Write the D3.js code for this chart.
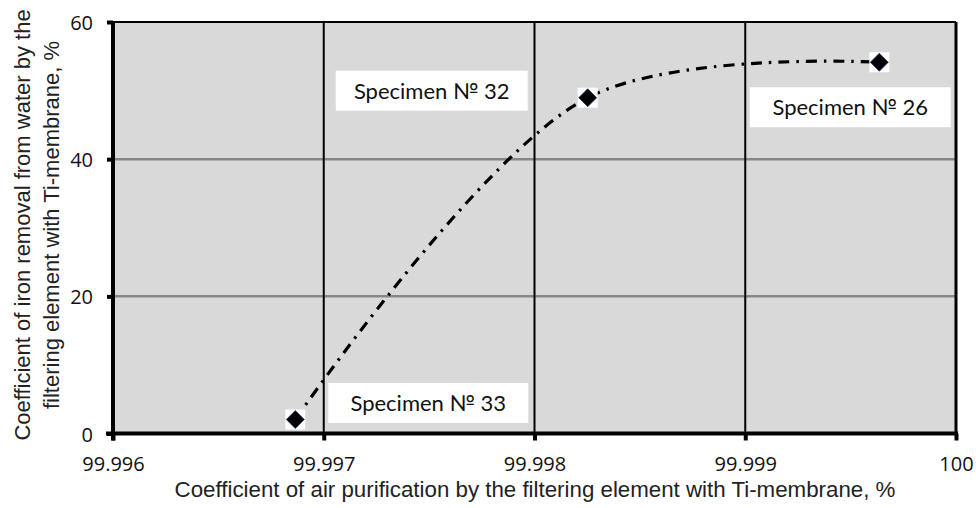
<!DOCTYPE html>
<html><head><meta charset="utf-8">
<script src="https://cdn.jsdelivr.net/npm/d3@7"></script>
<style>body{margin:0;background:#fff}svg{display:block}</style>
</head><body>
<svg id="c" width="976" height="508"></svg>
<script>
// ---- data ----
const airPurification = [99.996865, 99.9982525, 99.999636];
const ironRemoval = [2.04, 48.96, 54.13];
const specimenLabels = ["Specimen № 33", "Specimen № 32", "Specimen № 26"];
const xTicks = [99.996, 99.997, 99.998, 99.999, 100];
const xTickLabels = ["99.996", "99.997", "99.998", "99.999", "100"];
const yTicks = [0, 20, 40, 60];
const xTitle = "Coefficient of air purification by the filtering element with Ti-membrane, %";
const yTitleLines = ["Coefficient of iron removal from water by the", "filtering element with Ti-membrane, %"];

const svg = d3.select("#c");
const L = 113, R = 956, T = 22, B = 433.5;
const x = d3.scaleLinear().domain([99.996, 100]).range([L, R]);
const y = d3.scaleLinear().domain([0, 60]).range([B, T]);

// background
svg.append("rect").attr("x", L).attr("y", T).attr("width", R - L).attr("height", B - T).attr("fill", "#d9d9d9");

// horizontal grid
svg.append("g").selectAll("line").data(yTicks.filter(d => d > 0 && d < 60)).join("line")
  .attr("x1", L).attr("x2", R).attr("y1", d => y(d)).attr("y2", d => y(d))
  .attr("stroke", "#878787").attr("stroke-width", 2.5);
// vertical grid
svg.append("g").selectAll("line").data(xTicks.filter(d => d > 99.996 && d < 100)).join("line")
  .attr("x1", d => x(d)).attr("x2", d => x(d)).attr("y1", T).attr("y2", B)
  .attr("stroke", "#000").attr("stroke-width", 2);

// borders
svg.append("line").attr("x1", L).attr("x2", R).attr("y1", T).attr("y2", T).attr("stroke", "#000").attr("stroke-width", 2);
svg.append("line").attr("x1", R).attr("x2", R).attr("y1", T).attr("y2", B).attr("stroke", "#000").attr("stroke-width", 3);

// axes
const tickFont = "'Open Sans', sans-serif";
const xAxis = d3.axisBottom(x).tickValues(xTicks).tickSize(7).tickFormat((d, i) => xTickLabels[i]);
const gx = svg.append("g").attr("transform", `translate(0,${B})`).call(xAxis)
  .attr("font-size", null).attr("font-family", null);
gx.select(".domain").attr("stroke-width", 4).attr("d", `M${L - 7},0H${R + 2}`);
gx.selectAll(".tick line").attr("stroke-width", 4);
gx.selectAll(".tick text").style("font-family", tickFont).style("font-size", "20px").attr("fill", "#111").attr("dy", null).attr("y", 37);

const yAxis = d3.axisLeft(y).tickValues(yTicks).tickSize(6);
const gy = svg.append("g").attr("transform", `translate(${L},0)`).call(yAxis)
  .attr("font-size", null).attr("font-family", null);
gy.select(".domain").attr("stroke-width", 4).attr("d", `M0,${T - 1}V${B + 7}`);
gy.selectAll(".tick line").attr("stroke-width", 4);
gy.selectAll(".tick text").style("font-family", tickFont).style("font-size", "20px").attr("fill", "#111").attr("dy", null).attr("y", 7.5).attr("x", -20);
gx.select(".domain").raise();

// smooth trend line
const pts = airPurification.map((v, i) => [x(v), y(ironRemoval[i])]);
svg.append("path").attr("d", d3.line().curve(d3.curveCatmullRom.alpha(0.5))(pts))
  .attr("fill", "none").attr("stroke", "#000").attr("stroke-width", 3.2)
  .attr("stroke-dasharray", "11,7,2.5,7");

// markers
const mk = svg.append("g").selectAll("g").data(pts).join("g").attr("transform", d => `translate(${d[0]},${d[1]})`);
mk.append("rect").attr("x", -10).attr("y", -10).attr("width", 20).attr("height", 20).attr("fill", "#fff");
mk.append("path").attr("d", "M0,-9L9,0L0,9L-9,0Z").attr("fill", "#000").attr("stroke", "#1f3f7a").attr("stroke-width", 0.8);

// labels
const offsets = [[133, -16.5], [-156, -7], [-29, 45]];
const lbl = svg.append("g").selectAll("g").data(specimenLabels).join("g")
  .attr("transform", (d, i) => `translate(${pts[i][0] + offsets[i][0]},${pts[i][1] + offsets[i][1]})`);
const boxW = [200, 192, 201];
lbl.append("rect").attr("x", (d, i) => -boxW[i] / 2).attr("y", -20).attr("width", (d, i) => boxW[i]).attr("height", 40).attr("fill", "#fff");
lbl.append("text").text(d => d).attr("text-anchor", "middle").attr("y", 8)
  .style("font-family", "Lato, 'Open Sans', sans-serif").style("font-size", "22px").attr("fill", "#111");

// titles
const titleFont = "'Liberation Sans', Arial, sans-serif";
svg.append("text").attr("x", 535).attr("y", 497).attr("text-anchor", "middle")
  .style("font-family", titleFont).style("font-size", "22.3px").attr("fill", "#222").text(xTitle);
const yt = svg.append("text").attr("transform", "translate(0,225) rotate(-90)").attr("text-anchor", "middle")
  .style("font-family", titleFont).style("font-size", "22px").attr("fill", "#222");
yt.selectAll("tspan").data(yTitleLines).join("tspan").attr("x", 0).attr("y", (d, i) => 30 + i * 29).text(d => d);
</script>
</body></html>
